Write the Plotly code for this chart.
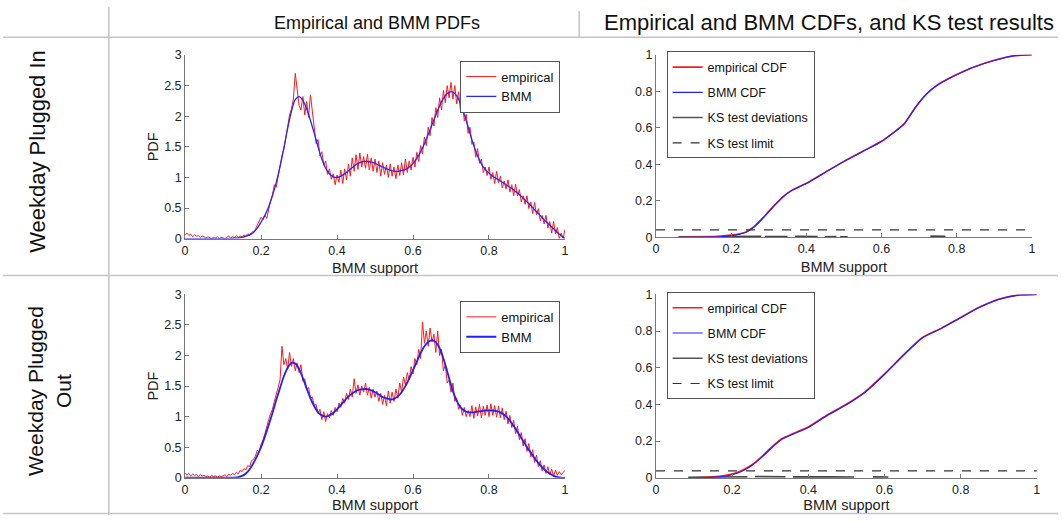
import numpy as np
import plotly.graph_objects as go

# ---------------- data ----------------
pdf_grid = np.round(np.linspace(0, 1, 201), 3)          # empirical histogram support
bmm_grid = np.round(np.linspace(0, 1, 101), 2)          # BMM evaluation support

emp_pdf_in = [
    0.06, 0.09, 0.05, 0.07, 0.03, 0.06, 0.04, 0.05, 0.02, 0.04,
    0.03, 0.01, 0.03, 0.02, 0.00, 0.02, 0.01, 0.03, 0.00, 0.02,
    0.01, 0.00, 0.02, 0.04, 0.01, 0.03, 0.02, 0.05, 0.02, 0.04,
    0.03, 0.06, 0.04, 0.08, 0.05, 0.10, 0.12, 0.15, 0.22, 0.30,
    0.35, 0.31, 0.38, 0.33, 0.50, 0.62, 0.72, 0.88, 0.84, 1.02,
    1.20, 1.36, 1.46, 1.66, 1.86, 2.02, 2.12, 2.28, 2.70, 2.42,
    2.18, 2.10, 2.32, 2.02, 2.24, 1.98, 2.35, 2.08, 1.80, 1.55,
    1.62, 1.35, 1.42, 1.20, 1.27, 1.05, 1.14, 0.97, 1.06, 0.88,
    1.04, 0.92, 1.12, 0.90, 1.14, 0.96, 1.22, 1.02, 1.32, 1.10,
    1.37, 1.13, 1.40, 1.17, 1.34, 1.15, 1.38, 1.12, 1.32, 1.10,
    1.30, 1.08, 1.27, 1.02, 1.24, 1.05, 1.20, 1.00, 1.22, 1.02,
    1.17, 0.98, 1.20, 1.03, 1.24, 1.04, 1.30, 1.08, 1.27, 1.12,
    1.33, 1.17, 1.41, 1.26, 1.52, 1.38, 1.66, 1.52, 1.82, 1.68,
    1.98, 1.84, 2.14, 1.98, 2.30, 2.10, 2.42, 2.22, 2.50, 2.30,
    2.55, 2.28, 2.50, 2.20, 2.40, 2.08, 2.25, 1.92, 2.03, 1.72,
    1.82, 1.54, 1.58, 1.33, 1.47, 1.23, 1.30, 1.08, 1.17, 1.03,
    1.17, 0.97, 1.08, 0.90, 1.10, 0.91, 1.02, 0.83, 0.94, 0.81,
    0.96, 0.76, 0.88, 0.70, 0.89, 0.70, 0.80, 0.60, 0.70, 0.56,
    0.70, 0.49, 0.60, 0.41, 0.59, 0.39, 0.49, 0.29, 0.38, 0.24,
    0.38, 0.17, 0.28, 0.09, 0.28, 0.08, 0.18, 0.00, 0.09, 0.00,
    0.15,
]

bmm_pdf_in = [
    0.00, 0.00, 0.00, 0.00, 0.00, 0.00, 0.00, 0.00, 0.00, 0.00,
    0.00, 0.00, 0.00, 0.01, 0.01, 0.02, 0.04, 0.06, 0.10, 0.17,
    0.27, 0.38, 0.52, 0.70, 0.92, 1.18, 1.48, 1.80, 2.08, 2.27,
    2.32, 2.26, 2.12, 1.93, 1.72, 1.50, 1.30, 1.15, 1.06, 1.01,
    1.00, 1.02, 1.06, 1.11, 1.16, 1.21, 1.24, 1.26, 1.26, 1.25,
    1.23, 1.20, 1.17, 1.14, 1.12, 1.10, 1.10, 1.11, 1.13, 1.17,
    1.23, 1.31, 1.42, 1.55, 1.70, 1.86, 2.02, 2.17, 2.29, 2.37,
    2.40, 2.37, 2.28, 2.12, 1.93, 1.72, 1.52, 1.35, 1.22, 1.13,
    1.07, 1.02, 0.98, 0.94, 0.90, 0.86, 0.82, 0.77, 0.72, 0.66,
    0.60, 0.54, 0.47, 0.41, 0.34, 0.28, 0.22, 0.16, 0.10, 0.05,
    0.00,
]

emp_pdf_out = [
    0.08, 0.04, 0.07, 0.03, 0.06, 0.04, 0.05, 0.02, 0.05, 0.03,
    0.04, 0.02, 0.03, 0.01, 0.04, 0.02, 0.03, 0.01, 0.03, 0.02,
    0.03, 0.05, 0.02, 0.06, 0.04, 0.07, 0.05, 0.09, 0.06, 0.12,
    0.10, 0.15, 0.13, 0.20, 0.18, 0.28, 0.30, 0.35, 0.45, 0.42,
    0.55, 0.62, 0.72, 0.85, 0.95, 1.05, 1.12, 1.25, 1.35, 1.48,
    1.60, 2.15, 1.85, 1.95, 1.78, 2.05, 1.82, 1.95, 1.75, 1.88,
    1.72, 1.85, 1.58, 1.62, 1.45, 1.48, 1.30, 1.32, 1.18, 1.20,
    1.05, 1.12, 0.95, 1.08, 0.92, 1.05, 0.98, 1.10, 1.02, 1.15,
    1.08, 1.22, 1.15, 1.30, 1.22, 1.38, 1.28, 1.45, 1.32, 1.62,
    1.38, 1.52, 1.35, 1.50, 1.40, 1.55, 1.35, 1.48, 1.30, 1.45,
    1.32, 1.42, 1.25, 1.38, 1.20, 1.35, 1.18, 1.42, 1.22, 1.40,
    1.25, 1.45, 1.30, 1.55, 1.40, 1.65, 1.52, 1.72, 1.60, 1.82,
    1.70, 1.95, 1.85, 2.10, 1.95, 2.55, 2.20, 2.40, 2.15, 2.45,
    2.22, 2.35, 2.05, 2.40, 2.00, 2.10, 1.75, 1.85, 1.55, 1.60,
    1.40, 1.55, 1.25, 1.30, 1.12, 1.18, 1.02, 1.15, 1.00, 1.10,
    1.00, 1.18, 0.97, 1.16, 1.01, 1.20, 0.98, 1.17, 1.02, 1.19,
    1.00, 1.21, 1.02, 1.18, 0.99, 1.17, 0.98, 1.14, 0.95, 1.09,
    0.88, 1.02, 0.82, 0.94, 0.72, 0.84, 0.62, 0.74, 0.52, 0.64,
    0.43, 0.56, 0.34, 0.46, 0.25, 0.37, 0.18, 0.28, 0.11, 0.21,
    0.07, 0.18, 0.05, 0.14, 0.03, 0.12, 0.04, 0.10, 0.05, 0.09,
    0.12,
]

bmm_pdf_out = [
    0.00, 0.00, 0.00, 0.00, 0.00, 0.00, 0.00, 0.00, 0.00, 0.00,
    0.00, 0.00, 0.00, 0.00, 0.01, 0.03, 0.07, 0.14, 0.24, 0.36,
    0.50, 0.67, 0.86, 1.06, 1.27, 1.47, 1.66, 1.80, 1.88, 1.87,
    1.78, 1.63, 1.46, 1.30, 1.17, 1.07, 1.02, 1.00, 1.02, 1.06,
    1.12, 1.19, 1.26, 1.33, 1.38, 1.42, 1.44, 1.45, 1.45, 1.43,
    1.40, 1.36, 1.32, 1.30, 1.28, 1.29, 1.33, 1.40, 1.50, 1.62,
    1.76, 1.90, 2.04, 2.15, 2.22, 2.25, 2.22, 2.12, 1.95, 1.74,
    1.52, 1.33, 1.20, 1.12, 1.08, 1.07, 1.07, 1.08, 1.09, 1.10,
    1.10, 1.10, 1.09, 1.07, 1.03, 0.97, 0.89, 0.80, 0.70, 0.60,
    0.50, 0.41, 0.32, 0.24, 0.17, 0.11, 0.07, 0.03, 0.01, 0.00,
    0.00,
]

cdf_x_in = [0.06, 0.10, 0.14, 0.17, 0.20, 0.22, 0.24, 0.26, 0.28, 0.30, 0.32, 0.34, 0.36, 0.38, 0.40,
            0.45, 0.50, 0.55, 0.60, 0.63, 0.66, 0.69, 0.72, 0.75, 0.78, 0.81, 0.85, 0.90, 0.95, 1.00]
bmm_cdf_in = [0.000, 0.000, 0.001, 0.003, 0.009, 0.016, 0.028, 0.055, 0.095, 0.140, 0.185, 0.225, 0.255, 0.275, 0.295,
              0.355, 0.415, 0.470, 0.525, 0.570, 0.620, 0.710, 0.785, 0.835, 0.870, 0.900, 0.935, 0.968, 0.993, 1.000]
emp_cdf_in = [0.000, 0.000, 0.002, 0.006, 0.012, 0.018, 0.030, 0.057, 0.097, 0.142, 0.186, 0.226, 0.256, 0.276, 0.296,
              0.356, 0.416, 0.471, 0.526, 0.571, 0.621, 0.711, 0.786, 0.836, 0.871, 0.901, 0.936, 0.969, 0.993, 1.000]

cdf_x_out = [0.085, 0.12, 0.15, 0.18, 0.20, 0.22, 0.25, 0.28, 0.30, 0.33, 0.36, 0.40, 0.45, 0.50, 0.55,
             0.60, 0.65, 0.70, 0.75, 0.80, 0.85, 0.90, 0.95, 1.00]
bmm_cdf_out = [0.000, 0.000, 0.002, 0.008, 0.016, 0.030, 0.064, 0.115, 0.155, 0.208, 0.238, 0.274, 0.340, 0.398, 0.468,
               0.563, 0.668, 0.763, 0.815, 0.873, 0.930, 0.973, 0.996, 1.000]
emp_cdf_out = [0.000, 0.001, 0.005, 0.012, 0.020, 0.034, 0.068, 0.120, 0.160, 0.213, 0.241, 0.277, 0.343, 0.401, 0.470,
               0.566, 0.670, 0.765, 0.816, 0.874, 0.931, 0.974, 0.996, 1.000]

ks_x_in = [0.06, 0.10, 0.15, 0.18, 0.20, 0.23, 0.26, 0.28, None, 0.29, 0.32, 0.35, None, 0.37, 0.40, 0.43, None,
           0.45, 0.48, None, 0.49, 0.51, None, 0.73, 0.77]
ks_dev_in = [0.002, 0.003, 0.002, 0.004, 0.006, 0.005, 0.006, 0.005, None, 0.004, 0.005, 0.004, None, 0.005, 0.006, 0.004, None,
             0.003, 0.004, None, 0.003, 0.002, None, 0.006, 0.005]
ks_x_out = [0.085, 0.12, 0.15, 0.18, 0.21, 0.24, None, 0.26, 0.30, 0.34, None, 0.36, 0.40, 0.45, 0.52, None, 0.57, 0.61]
ks_dev_out = [0.002, 0.003, 0.004, 0.005, 0.006, 0.005, None, 0.006, 0.007, 0.005, None, 0.004, 0.005, 0.004, 0.003, None, 0.004, 0.003]

ks_limit_x = [0.0, 1.0]
ks_limit_in = [0.041, 0.041]
ks_limit_out = [0.037, 0.037]

col_titles = ["Empirical and BMM PDFs", "Empirical and BMM CDFs, and KS test results"]
row_titles = ["Weekday Plugged In", "Weekday Plugged<br>Out"]

# ---------------- figure ----------------
FONT = "Liberation Sans, Arial, Helvetica, sans-serif"
W, H = 1062, 522
fig = go.Figure()

def px_x(p):
    return p / W

def px_y(p):
    return 1 - p / H

# PDF panels
fig.add_trace(go.Scatter(x=pdf_grid, y=emp_pdf_in, mode="lines", name="empirical",
                         line=dict(color="#ff1a1a", width=1), xaxis="x", yaxis="y", legend="legend"))
fig.add_trace(go.Scatter(x=bmm_grid, y=bmm_pdf_in, mode="lines", name="BMM", line_shape="spline",
                         line=dict(color="#2626ff", width=1.3), xaxis="x", yaxis="y", legend="legend"))
fig.add_trace(go.Scatter(x=pdf_grid, y=emp_pdf_out, mode="lines", name="empirical",
                         line=dict(color="#ff1a1a", width=1), xaxis="x3", yaxis="y3", legend="legend3"))
fig.add_trace(go.Scatter(x=bmm_grid, y=bmm_pdf_out, mode="lines", name="BMM", line_shape="spline",
                         line=dict(color="#1f1fff", width=1.8), xaxis="x3", yaxis="y3", legend="legend3"))

# CDF panels
for (xa, ya, lg, cx, ecdf, bcdf, kx, kd, kl) in [
    ("x2", "y2", "legend2", cdf_x_in, emp_cdf_in, bmm_cdf_in, ks_x_in, ks_dev_in, ks_limit_in),
    ("x4", "y4", "legend4", cdf_x_out, emp_cdf_out, bmm_cdf_out, ks_x_out, ks_dev_out, ks_limit_out),
]:
    fig.add_trace(go.Scatter(x=kx, y=kd, mode="lines", name="KS test deviations", showlegend=False,
                             line=dict(color="#444444", width=1.8), xaxis=xa, yaxis=ya, legend=lg,
                             connectgaps=False, legendgroup="c"))
    fig.add_trace(go.Scatter(x=cx, y=ecdf, mode="lines", name="empirical CDF", line_shape="spline",
                             line=dict(color="#ff1a1a", width=1.6, smoothing=0.6), xaxis=xa, yaxis=ya, legend=lg,
                             legendgroup="a"))
    fig.add_trace(go.Scatter(x=cx, y=bcdf, mode="lines", name="BMM CDF", line_shape="spline",
                             line=dict(color="#2020ff", width=1.2, smoothing=0.6), xaxis=xa, yaxis=ya, legend=lg,
                             legendgroup="b"))
    fig.add_trace(go.Scatter(x=[None], y=[None], mode="lines", name="KS test deviations",
                             line=dict(color="#555555", width=1.5), xaxis=xa, yaxis=ya, legend=lg,
                             legendgroup="c"))
    fig.add_trace(go.Scatter(x=ks_limit_x, y=kl, mode="lines", name="KS test limit",
                             line=dict(color="#333333", width=1.2, dash="dash"), xaxis=xa, yaxis=ya, legend=lg,
                             legendgroup="d"))

axis_common = dict(showline=True, linecolor="#777777", linewidth=1, ticks="inside", ticklen=4,
                   tickcolor="#777777", showgrid=False, zeroline=False, mirror=False,
                   tickfont=dict(family=FONT, size=12.5, color="#222222"), fixedrange=True)

xdom_l = [px_x(183.3), px_x(565.7)]
xdom_r_top = [px_x(657.3), px_x(1035.7)]
xdom_r_bot = [px_x(657.3), px_x(1040.7)]
ydom_top_l = [px_y(238.0), px_y(49.3)]
ydom_top_r = [px_y(236.7), px_y(49.0)]
ydom_bot = [px_y(483.7), px_y(295.3)]

xt = dict(text="BMM support", font=dict(family=FONT, size=14.5, color="#222222"))
yt = dict(text="PDF", font=dict(family=FONT, size=14.5, color="#222222"), standoff=2)

fig.update_layout(
    width=W, height=H, margin=dict(l=0, r=0, t=0, b=0),
    paper_bgcolor="white", plot_bgcolor="white",
    font=dict(family=FONT, color="#222222"),
    xaxis=dict(axis_common, domain=xdom_l, anchor="y", range=[0, 1], dtick=0.2, title=dict(xt, standoff=6)),
    yaxis=dict(axis_common, domain=ydom_top_l, anchor="x", range=[0, 3], dtick=0.5, title=yt),
    xaxis2=dict(axis_common, domain=xdom_r_top, anchor="y2", range=[0, 1], dtick=0.2, title=dict(xt, standoff=6)),
    yaxis2=dict(axis_common, domain=ydom_top_r, anchor="x2", range=[0, 1], dtick=0.2),
    xaxis3=dict(axis_common, domain=xdom_l, anchor="y3", range=[0, 1], dtick=0.2, title=dict(xt, standoff=2)),
    yaxis3=dict(axis_common, domain=ydom_bot, anchor="x3", range=[0, 3], dtick=0.5, title=yt),
    xaxis4=dict(axis_common, domain=xdom_r_bot, anchor="y4", range=[0, 1], dtick=0.2, title=dict(xt, standoff=2)),
    yaxis4=dict(axis_common, domain=ydom_bot, anchor="x4", range=[0, 1], dtick=0.2),
    legend=dict(x=px_x(561), y=px_y(55), xanchor="right", yanchor="top", bgcolor="white",
                bordercolor="#555555", borderwidth=1, font=dict(family=FONT, size=13, color="#111111"),
                tracegroupgap=0),
    legend3=dict(x=px_x(561), y=px_y(302), xanchor="right", yanchor="top", bgcolor="white",
                 bordercolor="#555555", borderwidth=1, font=dict(family=FONT, size=13, color="#111111"),
                 tracegroupgap=0),
    legend2=dict(x=px_x(668), y=px_y(45.7), xanchor="left", yanchor="top", bgcolor="white",
                 bordercolor="#555555", borderwidth=1, font=dict(family=FONT, size=12.5, color="#111111"),
                 traceorder="grouped", tracegroupgap=6),
    legend4=dict(x=px_x(668), y=px_y(293), xanchor="left", yanchor="top", bgcolor="white",
                 bordercolor="#555555", borderwidth=1, font=dict(family=FONT, size=12.5, color="#111111"),
                 traceorder="grouped", tracegroupgap=6),
    showlegend=True,
)

# table frame
grid_col = "#c4c4c4"
shapes = [
    dict(type="line", xref="paper", yref="paper", x0=0, x1=1, y0=px_y(31), y1=px_y(31)),
    dict(type="line", xref="paper", yref="paper", x0=0, x1=1, y0=px_y(276), y1=px_y(276)),
    dict(type="line", xref="paper", yref="paper", x0=0, x1=1, y0=px_y(520.5), y1=px_y(520.5)),
    dict(type="line", xref="paper", yref="paper", x0=px_x(106.5), x1=px_x(106.5), y0=0, y1=1),
    dict(type="line", xref="paper", yref="paper", x0=px_x(580), x1=px_x(580), y0=px_y(31), y1=px_y(4)),
]
for s in shapes:
    s["line"] = dict(color=grid_col, width=1.5)
    s["layer"] = "below"
fig.update_layout(shapes=shapes)

ann = [
    dict(text=col_titles[0], x=px_x(376), y=px_y(16), font=dict(family=FONT, size=18, color="#111111")),
    dict(text=col_titles[1], x=px_x(831), y=px_y(16), font=dict(family=FONT, size=22, color="#111111")),
    dict(text=row_titles[0], x=px_x(34), y=px_y(148), textangle=-90, font=dict(family=FONT, size=22, color="#111111")),
    dict(text=row_titles[1], x=px_x(47), y=px_y(395), textangle=-90, font=dict(family=FONT, size=21, color="#111111")),
]
for a in ann:
    a.update(xref="paper", yref="paper", showarrow=False, xanchor="center", yanchor="middle")
fig.update_layout(annotations=ann)

fig.write_html("out.html", config={"displayModeBar": False},
               post_script="document.body.style.margin='0px';document.body.style.overflow='hidden';")
